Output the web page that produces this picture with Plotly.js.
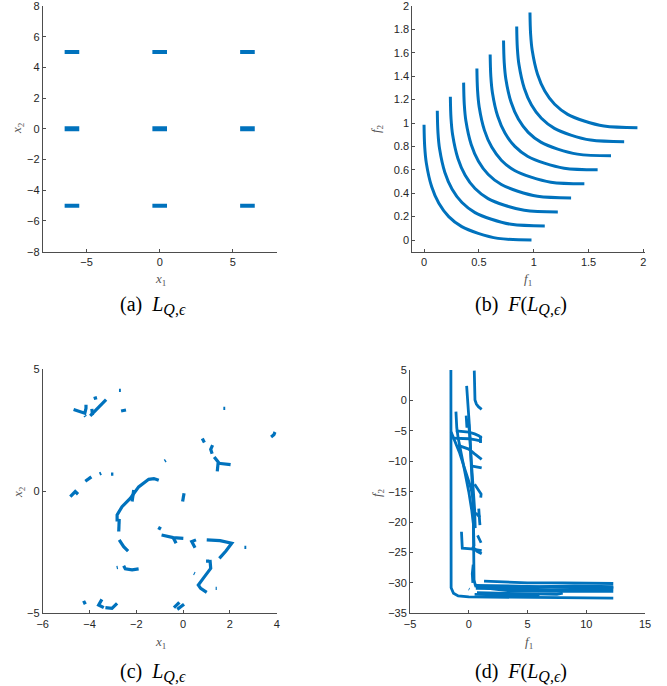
<!DOCTYPE html>
<html>
<head>
<meta charset="utf-8">
<script src="https://cdn.plot.ly/plotly-3.0.1.min.js"></script>
<style>html,body{margin:0;padding:0;background:#fff;}#plot{width:667px;height:686px;}</style>
</head>
<body>
<div id="plot"></div>
<script>
// ---------- Panel (a): segments in decision space ----------
const aSegStart = [-6.5, -0.5, 5.5, -6.5, -0.5, 5.5, -6.5, -0.5, 5.5];
const aSegEnd   = [-5.5,  0.5, 6.5, -5.5,  0.5, 6.5, -5.5,  0.5, 6.5];
const aSegY     = [5, 5, 5, 0, 0, 0, -5, -5, -5];

// ---------- Panel (b): nine curves in objective space ----------
const bX = [
  [0.000,0.006,0.021,0.069,0.135,0.225,0.344,0.494,0.674,0.980],
  [0.121,0.127,0.142,0.190,0.256,0.346,0.465,0.615,0.795,1.101],
  [0.240,0.246,0.261,0.309,0.375,0.465,0.584,0.734,0.914,1.220],
  [0.361,0.367,0.382,0.430,0.496,0.586,0.705,0.855,1.035,1.341],
  [0.482,0.488,0.503,0.551,0.617,0.707,0.826,0.976,1.156,1.462],
  [0.603,0.609,0.624,0.672,0.738,0.828,0.947,1.097,1.277,1.583],
  [0.725,0.731,0.746,0.794,0.860,0.950,1.069,1.219,1.399,1.705],
  [0.845,0.851,0.866,0.914,0.980,1.070,1.189,1.339,1.519,1.825],
  [0.966,0.972,0.987,1.035,1.101,1.191,1.310,1.460,1.640,1.946]
];
const bY = [
  [0.985,0.800,0.657,0.457,0.314,0.200,0.114,0.057,0.014,0.000],
  [1.105,0.920,0.777,0.577,0.434,0.320,0.234,0.177,0.134,0.120],
  [1.225,1.040,0.897,0.697,0.554,0.440,0.354,0.297,0.254,0.240],
  [1.345,1.160,1.017,0.817,0.674,0.560,0.474,0.417,0.374,0.360],
  [1.465,1.280,1.137,0.937,0.794,0.680,0.594,0.537,0.494,0.480],
  [1.585,1.400,1.257,1.057,0.914,0.800,0.714,0.657,0.614,0.600],
  [1.705,1.520,1.377,1.177,1.034,0.920,0.834,0.777,0.734,0.720],
  [1.825,1.640,1.497,1.297,1.154,1.040,0.954,0.897,0.854,0.840],
  [1.945,1.760,1.617,1.417,1.274,1.160,1.074,1.017,0.974,0.960]
];

// ---------- Panel (c): scattered pieces (null separates pieces) ----------
const cX = [
 -4.68,-4.40,-4.20,-4.15,-4.15,null, -4.20,-4.17,null, -3.82,-3.68,null,
 -3.97,-3.68,-3.29,null, -3.90,-3.87,null, -2.74,-2.66,null, -2.65,-2.44,null,
 1.72,1.80,null, 3.76,3.88,3.93,null, 0.82,0.91,null, 1.26,1.18,1.24,null,
 1.33,1.50,1.46,null, 1.50,2.03,null, -0.79,-0.74,null,
 -4.82,-4.61,-4.49,null, -4.18,-3.92,null, -3.57,-3.50,null, -3.08,-2.98,null,
 -1.04,-1.25,-1.47,-1.90,-2.26,-2.61,-2.82,-2.82,null, -2.11,-2.18,null,
 -2.73,-2.75,-2.75,null, -2.73,-2.54,-2.35,null, -2.84,-2.79,null,
 -2.54,-2.47,-2.18,-1.90,null, -4.25,-4.18,null, -3.47,-3.61,-3.39,null,
 -3.32,-3.04,-2.82,null, -1.04,-0.97,null, 0.04,0.00,-0.02,null,
 -0.92,-0.42,0.01,null, -0.42,-0.30,null, 0.55,0.37,0.51,null,
 1.01,1.58,2.08,1.83,1.55,null, 2.62,2.70,null, 0.98,1.12,null,
 1.15,1.18,0.86,0.65,0.75,1.01,null, 0.46,0.50,null, 1.39,1.44,null,
 -0.39,-0.16,null, -0.25,0.04
];
const cY = [
 3.35,3.25,3.20,3.40,3.55,null, 3.10,3.06,null, 3.80,3.84,null,
 3.09,3.39,3.76,null, 3.38,3.12,null, 4.14,4.14,null, 3.29,3.33,null,
 3.40,3.40,null, 2.23,2.32,2.43,null, 2.16,2.00,null, 1.89,1.72,1.54,null,
 1.41,1.20,0.82,null, 1.15,1.09,null, 1.24,1.27,null,
 -0.22,-0.01,-0.12,null, 0.41,0.59,null, 0.71,0.74,null, 0.70,0.70,null,
 0.45,0.52,0.49,0.18,-0.29,-0.63,-0.97,-1.24,null, 0.05,-0.42,null,
 -1.13,-1.45,-1.65,null, -1.99,-2.27,-2.45,null, -3.13,-3.12,null,
 -3.05,-3.18,-3.22,-3.18,null, -4.49,-4.63,null, -4.43,-4.66,-4.77,null,
 -4.77,-4.80,-4.59,null, -1.58,-1.45,null, -0.08,-0.30,-0.42,null,
 -1.79,-1.90,-1.93,null, -1.90,-2.13,null, -1.99,-2.06,-2.31,null,
 -1.99,-2.02,-2.13,-2.45,-2.75,null, -2.30,-2.30,null, -2.86,-2.86,null,
 -2.81,-3.16,-3.57,-3.84,-3.98,-4.14,null, -3.36,-3.38,null, -3.98,-3.98,null,
 -4.77,-4.55,null, -4.84,-4.63
];

// ---------- Panel (d): image of the pieces (null separates pieces) ----------
const dX = [
 -1.52,-1.54,-1.55,-1.50,-1.30,-0.90,0.00,2.40,6.00,12.30,null,
 0.47,0.50,0.53,0.65,0.82,1.10,null,
 -0.18,-0.10,-0.02,0.05,0.12,0.22,0.30,0.38,0.42,0.45,0.45,0.55,1.00,4.00,8.00,12.30,null,
 -1.09,-1.02,-0.90,-0.60,-0.30,0.00,0.25,0.39,0.45,null,
 -1.50,-1.20,-0.80,-0.30,0.20,0.40,0.45,null,
 -0.05,0.10,0.20,0.35,0.50,0.55,null,
 -0.22,-0.15,null,
 -1.10,0.00,0.50,0.85,1.10,null,
 -1.40,0.00,0.60,1.10,null,
 1.00,1.02,1.00,null,
 -0.90,0.00,0.50,0.85,1.10,null,
 0.30,0.80,1.10,null,
 0.50,0.80,1.05,1.02,null,
 0.85,0.90,0.95,null,
 0.60,0.95,null,
 0.75,0.95,1.05,null,
 -0.62,-0.55,0.20,0.70,1.10,null,
 0.30,0.70,1.10,null,
 1.30,3.00,5.00,8.00,12.30,null,
 0.50,3.00,6.00,9.00,12.30,null,
 0.60,3.00,7.00,12.30,null,
 0.50,2.00,3.50,7.00,12.30,null,
 0.70,4.00,7.50,8.00,null,
 0.50,3.00,5.80,6.00,null,
 0.38,0.30,0.35,null,
 0.00,0.06
];
const dY = [
 5.0,-20.0,-29.0,-30.8,-31.7,-32.15,-32.3,-32.35,-32.4,-32.5,null,
 4.9,2.0,0.07,-0.6,-1.03,-1.47,null,
 2.4,0.5,-2.0,-4.0,-7.0,-10.0,-14.0,-18.0,-22.0,-26.0,-29.5,-30.3,-30.6,-30.7,-30.6,-30.8,null,
 -1.85,-4.5,-6.2,-9.0,-12.0,-15.0,-18.0,-20.2,-24.0,null,
 -5.2,-6.5,-8.5,-11.5,-14.5,-16.5,-20.0,null,
 -3.0,-6.0,-9.5,-13.0,-18.0,-21.0,null,
 -2.5,-4.5,null,
 -5.0,-5.2,-5.5,-5.8,-6.2,null,
 -6.2,-6.3,-6.5,-6.7,null,
 -5.8,-6.4,-7.0,null,
 -7.4,-8.0,-8.8,-9.4,-9.7,null,
 -10.8,-11.0,-11.1,null,
 -13.8,-14.6,-15.4,-16.0,null,
 -17.8,-19.0,-20.5,null,
 -18.5,-19.2,null,
 -22.2,-23.0,-23.4,null,
 -21.6,-24.3,-24.4,-24.5,-24.7,null,
 -24.0,-24.8,-25.2,null,
 -29.7,-29.8,-30.0,-30.0,-30.1,null,
 -30.4,-30.5,-30.6,-30.5,-30.6,null,
 -30.9,-31.0,-31.1,-31.0,null,
 -30.5,-31.0,-31.3,-31.4,-31.4,null,
 -31.6,-31.8,-31.9,-31.7,null,
 -31.9,-32.0,-32.1,-31.8,null,
 -27.0,-28.5,-30.0,null,
 -31.0,-31.05
];

// ---------- tick values ----------
const aXTicks = [-5, 0, 5];
const aYTicks = [-8, -6, -4, -2, 0, 2, 4, 6, 8];
const bXTicks = [0, 0.5, 1, 1.5, 2];
const bYTicks = [0, 0.2, 0.4, 0.6, 0.8, 1, 1.2, 1.4, 1.6, 1.8, 2];
const cXTicks = [-6, -4, -2, 0, 2, 4];
const cYTicks = [-5, 0, 5];
const dXTicks = [-5, 0, 5, 10, 15];
const dYTicks = [-35, -30, -25, -20, -15, -10, -5, 0, 5];

// ---------- build ----------
const W = 667, H = 686;
const BLUE = '#0072BD';
const px = x => x / W;
const py = y => 1 - y / H;

const traces = [];
for (let i = 0; i < aSegY.length; i++) {
  traces.push({x: [aSegStart[i], aSegEnd[i]], y: [aSegY[i], aSegY[i]], type: 'scatter', mode: 'lines',
    line: {color: BLUE, width: aSegY[i] === 0 ? 5 : 4}, xaxis: 'x', yaxis: 'y', hoverinfo: 'skip'});
}
for (let k = 0; k < bX.length; k++) {
  traces.push({x: bX[k], y: bY[k], type: 'scatter', mode: 'lines',
    line: {color: BLUE, width: 3, shape: 'spline', smoothing: 1}, xaxis: 'x2', yaxis: 'y2', hoverinfo: 'skip'});
}
traces.push({x: cX, y: cY, type: 'scatter', mode: 'lines', connectgaps: false,
  line: {color: BLUE, width: 3.2}, xaxis: 'x3', yaxis: 'y3', hoverinfo: 'skip'});
traces.push({x: dX, y: dY, type: 'scatter', mode: 'lines', connectgaps: false,
  line: {color: BLUE, width: 2.8}, xaxis: 'x4', yaxis: 'y4', hoverinfo: 'skip'});

function ax(domain, range, ticks, anchor) {
  return {domain: domain, range: range, autorange: false, tickvals: ticks,
    showline: true, linecolor: '#4d4d4d', linewidth: 1, ticks: 'inside', ticklen: 3,
    tickcolor: '#4d4d4d', showgrid: false, zeroline: false, anchor: anchor,
    ticklabeloverflow: 'allow',
    tickfont: {family: 'Liberation Sans, Arial, sans-serif', size: 11, color: '#262626'},
    fixedrange: true};
}

const layout = {
  width: W, height: H, margin: {l: 0, r: 0, t: 0, b: 0}, showlegend: false,
  paper_bgcolor: '#fff', plot_bgcolor: '#fff',
  xaxis:  ax([px(42.7), px(276.7)], [-8, 8], aXTicks, 'y'),
  yaxis:  ax([py(251.7), py(6)], [-8, 8], aYTicks, 'x'),
  xaxis2: ax([px(412.3), px(645)], [-0.107, 2.015], bXTicks, 'y2'),
  yaxis2: ax([py(251.7), py(6)], [-0.1, 2], bYTicks, 'x2'),
  xaxis3: ax([px(42.7), px(276.7)], [-6, 4], cXTicks, 'y3'),
  yaxis3: ax([py(613.3), py(369.3)], [-5, 5], cYTicks, 'x3'),
  xaxis4: ax([px(410), px(645)], [-5, 15], dXTicks, 'y4'),
  yaxis4: ax([py(613.3), py(370)], [-35, 5], dYTicks, 'x4'),
  annotations: []
};

const labFont = {family: 'Liberation Serif, DejaVu Serif, serif', size: 13, color: '#555'};
function lab(text, x, y, rot) {
  layout.annotations.push({text: text, x: px(x), y: py(y), xref: 'paper', yref: 'paper',
    showarrow: false, xanchor: 'center', yanchor: 'middle', textangle: rot || 0, font: labFont});
}
lab('<i>x</i><sub>1</sub>', 160, 279);
lab('<i>x</i><sub>2</sub>', 18, 128, -90);
lab('<i>f</i><sub>1</sub>', 528, 279);
lab('<i>f</i><sub>2</sub>', 377, 128, -90);
lab('<i>x</i><sub>1</sub>', 160, 642);
lab('<i>x</i><sub>2</sub>', 18, 492, -90);
lab('<i>f</i><sub>1</sub>', 529, 642);
lab('<i>f</i><sub>2</sub>', 377, 492, -90);

const capFont = {family: 'Liberation Serif, Times New Roman, serif', size: 20, color: '#000'};
function cap(text, x, y) {
  layout.annotations.push({text: text, x: px(x), y: py(y), xref: 'paper', yref: 'paper',
    showarrow: false, xanchor: 'center', yanchor: 'middle', font: capFont});
}
const sub = '<sub><span style="font-size:16px"><i>Q</i>,<i>ϵ</i></span></sub>';
cap('(a)&nbsp;&nbsp;<i>L</i>' + sub, 153, 306);
cap('(b)&nbsp;&nbsp;<i>F</i>(<i>L</i>' + sub + ')', 521, 306);
cap('(c)&nbsp;&nbsp;<i>L</i>' + sub, 153, 672);
cap('(d)&nbsp;&nbsp;<i>F</i>(<i>L</i>' + sub + ')', 521, 672);

Plotly.newPlot('plot', traces, layout, {staticPlot: true, displayModeBar: false});
</script>
</body>
</html>
